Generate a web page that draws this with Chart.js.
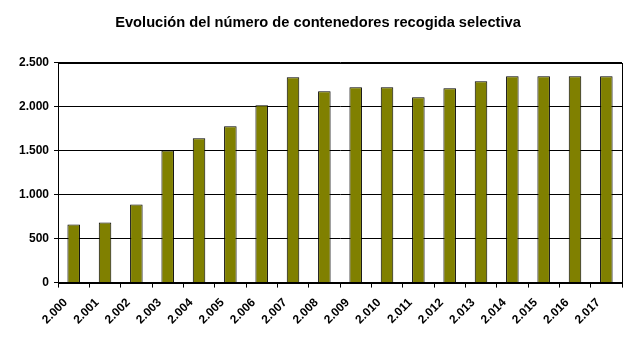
<!DOCTYPE html>
<html lang="es">
<head>
<meta charset="utf-8">
<title>Contenedores recogida selectiva</title>
<script src="https://cdn.jsdelivr.net/npm/chart.js@4/dist/chart.umd.min.js"></script>
<style>
  html, body { margin: 0; padding: 0; background: #fff; }
  #wrap { width: 639px; height: 345px; }
</style>
</head>
<body>
<div id="wrap"><canvas id="grafico"></canvas></div>
<script>
// Años y número de contenedores
const anios = [2000, 2001, 2002, 2003, 2004, 2005, 2006, 2007, 2008,
               2009, 2010, 2011, 2012, 2013, 2014, 2015, 2016, 2017];
const contenedores = [660, 683, 888, 1500, 1639, 1776, 2015, 2334, 2174,
                      2220, 2220, 2106, 2208, 2288, 2345, 2345, 2345, 2345];
const ejeY = [0, 500, 1000, 1500, 2000, 2500];

// separador de miles con punto, también para 4 cifras
function conPunto(n) {
    return String(n).replace(/\B(?=(\d{3})+(?!\d))/g, ".");
}

const fuente = { family: "'Liberation Sans', Arial, sans-serif", size: 12, weight: 'bold' };

// marco negro alrededor del área de trazado
const marco = {
    id: 'marco',
    afterDraw(chart) {
        const a = chart.chartArea, ctx = chart.ctx;
        ctx.save();
        ctx.strokeStyle = '#000';
        ctx.lineWidth = 1;
        ctx.strokeRect(Math.round(a.left) + 0.5, Math.round(a.top) + 0.5,
                       Math.round(a.right - a.left), Math.round(a.bottom - a.top));
        ctx.restore();
    }
};

new Chart(document.getElementById('grafico'), {
    type: 'bar',
    data: {
        labels: anios.map(conPunto),
        datasets: [{
            data: contenedores,
            backgroundColor: '#808000',
            borderColor: '#000',
            borderWidth: 1,
            barPercentage: 0.4,
            categoryPercentage: 1
        }]
    },
    options: {
        responsive: true,
        maintainAspectRatio: false,
        animation: false,
        layout: { padding: { left: 14, right: 17, top: 8, bottom: 10 } },
        plugins: {
            legend: { display: false },
            tooltip: { enabled: false },
            title: {
                display: true,
                text: 'Evolución del número de contenedores recogida selectiva',
                color: '#000',
                font: { family: fuente.family, size: 14.67, weight: 'bold' },
                padding: { top: 6, bottom: 31 }
            }
        },
        scales: {
            x: {
                grid: { offset: true, drawOnChartArea: false, drawTicks: true, tickLength: 5, color: '#000' },
                border: { color: '#000' },
                ticks: { color: '#000', font: fuente, maxRotation: 45, minRotation: 45, padding: 8, labelOffset: -8 }
            },
            y: {
                min: 0,
                max: 2500,
                afterBuildTicks(axis) { axis.ticks = ejeY.map(v => ({ value: v })); },
                grid: { color: '#000', tickLength: 4 },
                border: { color: '#000' },
                ticks: { color: '#000', font: fuente, padding: 5, callback: v => conPunto(v) }
            }
        }
    },
    plugins: [marco]
});
</script>
</body>
</html>
